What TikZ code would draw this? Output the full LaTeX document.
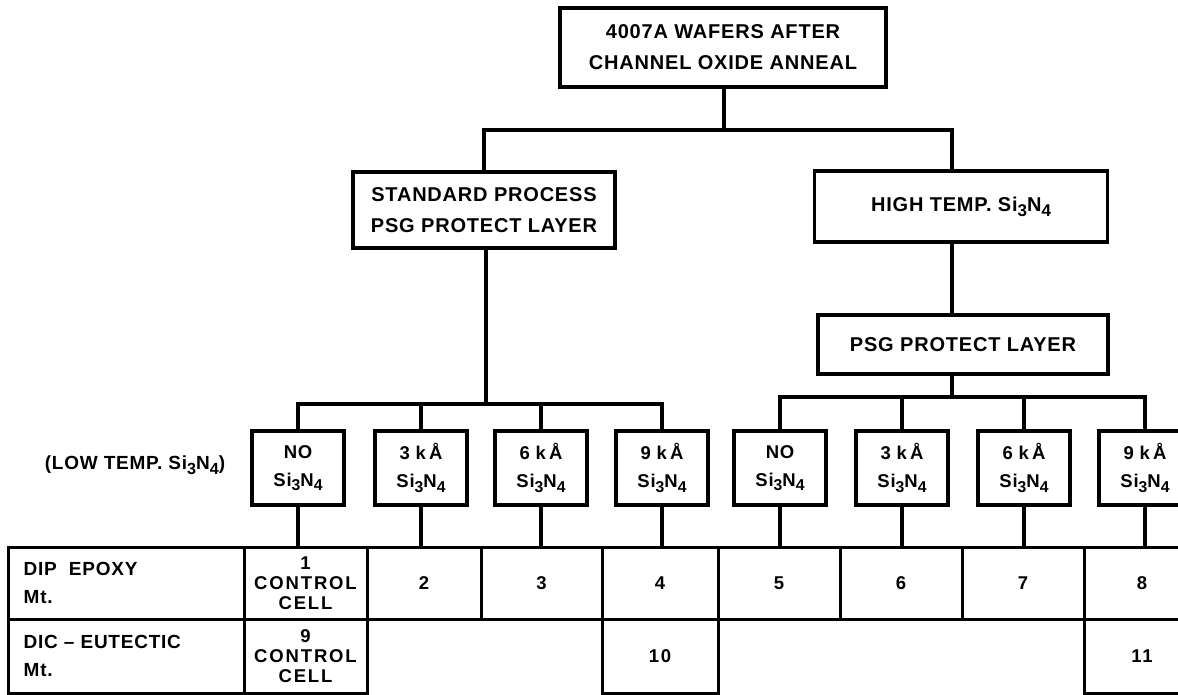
\documentclass[tikz,border=0pt]{standalone}
\usepackage{fontspec}
\setmainfont{Liberation Sans}[LetterSpace=4]
\newcommand{\sub}[1]{\raisebox{-0.45ex}{\scalebox{0.85}{#1}}}
\newcommand{\SiN}{Si\sub{3}N\sub{4}}

\begin{document}
\begin{tikzpicture}[x=1pt,y=-1pt,
  font=\bfseries\fontsize{20}{31}\selectfont,
  link/.style={line width=3.5pt},
  box/.style={draw,line width=3.5pt,align=center,inner sep=2pt},
  nbox/.style={box,minimum width=92,minimum height=74,font=\bfseries\fontsize{18.5}{28}\selectfont},
  cell/.style={draw,line width=3pt,minimum height=72,inner sep=0pt,align=center,
    font=\bfseries\fontsize{18.5}{20}\selectfont\addfontfeature{LetterSpace=10}},
  hdr/.style={anchor=west,align=left,inner sep=0pt,font=\bfseries\fontsize{19}{28}\selectfont}
]
\path[use as bounding box,clip] (0,0) rectangle (1178,695);
% process steps
\node[box,minimum width=326,minimum height=79] (top) at (723,47.5) {4007A WAFERS AFTER\\CHANNEL OXIDE ANNEAL};
\node[box,minimum width=262,minimum height=76] (std) at (484,210) {STANDARD PROCESS\\PSG PROTECT LAYER};
\node[box,minimum width=293,minimum height=71] (ht) at (961,206.5) {HIGH TEMP. \SiN};
\node[box,minimum width=290,minimum height=59] (psg) at (963,344.5) {PSG PROTECT LAYER};
% nitride options
\foreach \n/\x/\t in {l1/298/NO, l2/421/{3 k\,Å}, l3/541/{6 k\,Å}, l4/662/{9 k\,Å},
                      r1/780/NO, r2/902/{3 k\,Å}, r3/1024/{6 k\,Å}, r4/1145/{9 k\,Å}}
  \node[nbox] (\n) at (\x,468) {\t\\\SiN};
\node[inner sep=0pt,font=\bfseries\fontsize{19}{20}\selectfont] (lowt) at (135,465) {(LOW TEMP. \SiN)};
% tree
\coordinate (split) at (724,130);
\coordinate (rtrunk) at (952,130);
\coordinate (lbar) at (486,404);
\coordinate (rbar) at (952,397);
\draw[link] (top.south -| split) -- (split);
\draw[link] (std.north) |- (rtrunk) -- (ht.north -| rtrunk);
\draw[link] (ht.south -| rtrunk) -- (psg.north -| rtrunk);
\draw[link] (std.south -| lbar) -- (lbar);
\draw[link] (psg.south -| rbar) -- (rbar);
\draw[link] (l1.north) |- (lbar) -| (l4.north);
\draw[link] (r1.north) |- (rbar) -| (r4.north);
\foreach \b/\j in {l2/lbar, l3/lbar, r2/rbar, r3/rbar}
  \draw[link] (\b.north) -- (\b.north |- \j);
% cell table
\node[cell,minimum width=236] (dip) at (126,583) {};
\node[cell,minimum width=236,minimum height=74] (dic) at (126,656) {};
\node[hdr] (diplbl) at ([xshift=17pt]dip.west) {DIP\ \ EPOXY\\Mt.};
\node[hdr] (diclbl) at ([xshift=17pt]dic.west) {DIC -- EUTECTIC\\Mt.};
\foreach \n/\xa/\xb/\t in {c1/244/367/{1\\CONTROL\\CELL}, c2/367/481/2, c3/481/602/3, c4/602/718/4,
                           c5/718/840/5, c6/840/962/6, c7/962/1084/7, c8/1084/1200/8}
  \node[cell,minimum width={\xb-\xa}] (\n) at ({(\xa+\xb)/2},583) {\t};
\foreach \n/\xa/\xb/\t in {c9/244/367/{9\\CONTROL\\CELL}, c10/602/718/10, c11/1084/1200/11}
  \node[cell,minimum width={\xb-\xa},minimum height=74] (\n) at ({(\xa+\xb)/2},656) {\t};
\foreach \b/\c in {l1/c1, l2/c2, l3/c3, l4/c4, r1/c5, r2/c6, r3/c7, r4/c8}
  \draw[link] (\b.south) -- (\b.south |- \c.north);
\end{tikzpicture}
\end{document}
